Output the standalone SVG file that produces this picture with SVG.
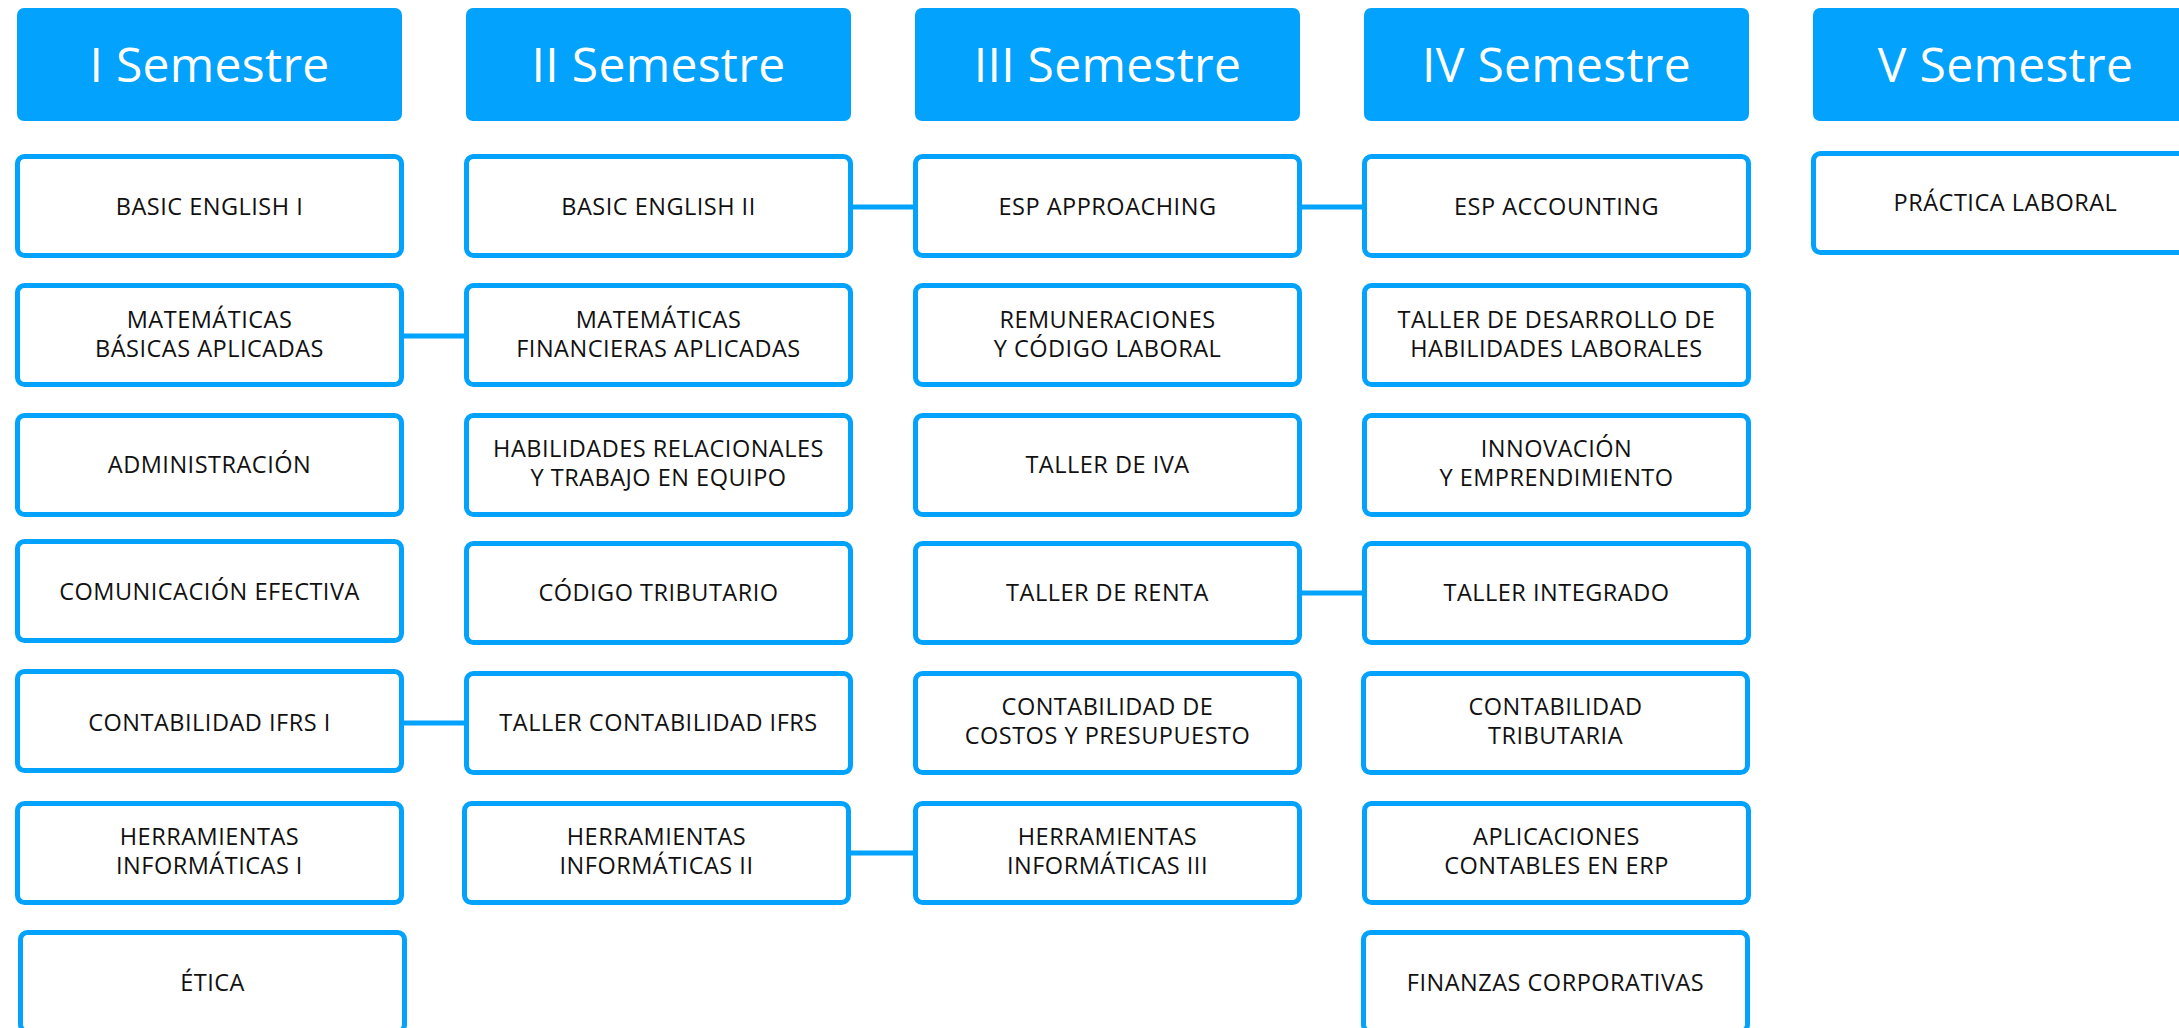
<svg xmlns="http://www.w3.org/2000/svg" width="2179" height="1028" viewBox="0 0 2179 1028">
<style>
.hd{fill:#03A2FD}
.ht{fill:#fff;font-family:"Open Sans","Liberation Sans",sans-serif;font-size:48px;letter-spacing:0.3px;text-anchor:middle}
.bx{fill:#fff;stroke:#03A2FD;stroke-width:5}
.t{fill:#111;font-family:"Open Sans","Liberation Sans",sans-serif;font-size:23.5px;font-weight:500;letter-spacing:0.5px;text-anchor:middle}
.cn{stroke:#03A2FD;stroke-width:5;fill:none}
</style>
<rect width="2179" height="1028" fill="#fff"/>
<g id="connectors">
<line class="cn" x1="404" y1="336" x2="464" y2="336"/>
<line class="cn" x1="404" y1="723" x2="464" y2="723"/>
<line class="cn" x1="853" y1="207" x2="913" y2="207"/>
<line class="cn" x1="851" y1="853" x2="913" y2="853"/>
<line class="cn" x1="1302" y1="207" x2="1362" y2="207"/>
<line class="cn" x1="1302" y1="593" x2="1362" y2="593"/>
</g>
<g id="h1"><rect class="hd" x="17" y="8" width="385" height="113" rx="7"/><text class="ht" x="209.5" y="82">I Semestre</text></g>
<g id="h2"><rect class="hd" x="466" y="8" width="385" height="113" rx="7"/><text class="ht" x="658.5" y="82">II Semestre</text></g>
<g id="h3"><rect class="hd" x="915" y="8" width="385" height="113" rx="7"/><text class="ht" x="1107.5" y="82">III Semestre</text></g>
<g id="h4"><rect class="hd" x="1364" y="8" width="385" height="113" rx="7"/><text class="ht" x="1556.5" y="82">IV Semestre</text></g>
<g id="h5"><rect class="hd" x="1813" y="8" width="385" height="113" rx="7"/><text class="ht" x="2005.5" y="82">V Semestre</text></g>

<g id="c1r1"><rect class="bx" x="17.5" y="156.5" width="384" height="99" rx="7"/><text class="t" x="209.5" y="215">BASIC ENGLISH I</text></g>
<g id="c1r2"><rect class="bx" x="17.5" y="285.5" width="384" height="99" rx="7"/><text class="t" x="209.5" y="328">MATEMÁTICAS</text><text class="t" x="209.5" y="357">BÁSICAS APLICADAS</text></g>
<g id="c1r3"><rect class="bx" x="17.5" y="415.5" width="384" height="99" rx="7"/><text class="t" x="209.5" y="473">ADMINISTRACIÓN</text></g>
<g id="c1r4"><rect class="bx" x="17.5" y="541.5" width="384" height="99" rx="7"/><text class="t" x="209.5" y="600">COMUNICACIÓN EFECTIVA</text></g>
<g id="c1r5"><rect class="bx" x="17.5" y="671.5" width="384" height="99" rx="7"/><text class="t" x="209.5" y="731">CONTABILIDAD IFRS I</text></g>
<g id="c1r6"><rect class="bx" x="17.5" y="803.5" width="384" height="99" rx="7"/><text class="t" x="209.5" y="845">HERRAMIENTAS</text><text class="t" x="209.5" y="874">INFORMÁTICAS I</text></g>
<g id="c1r7"><rect class="bx" x="20.5" y="932.5" width="384" height="99" rx="7"/><text class="t" x="212.5" y="991">ÉTICA</text></g>

<g id="c2r1"><rect class="bx" x="466.5" y="156.5" width="384" height="99" rx="7"/><text class="t" x="658.5" y="215">BASIC ENGLISH II</text></g>
<g id="c2r2"><rect class="bx" x="466.5" y="285.5" width="384" height="99" rx="7"/><text class="t" x="658.5" y="328">MATEMÁTICAS</text><text class="t" x="658.5" y="357">FINANCIERAS APLICADAS</text></g>
<g id="c2r3"><rect class="bx" x="466.5" y="415.5" width="384" height="99" rx="7"/><text class="t" x="658.5" y="457">HABILIDADES RELACIONALES</text><text class="t" x="658.5" y="486">Y TRABAJO EN EQUIPO</text></g>
<g id="c2r4"><rect class="bx" x="466.5" y="543.5" width="384" height="99" rx="7"/><text class="t" x="658.5" y="601">CÓDIGO TRIBUTARIO</text></g>
<g id="c2r5"><rect class="bx" x="466.5" y="673.5" width="384" height="99" rx="7"/><text class="t" x="658.5" y="731">TALLER CONTABILIDAD IFRS</text></g>
<g id="c2r6"><rect class="bx" x="464.5" y="803.5" width="384" height="99" rx="7"/><text class="t" x="656.5" y="845">HERRAMIENTAS</text><text class="t" x="656.5" y="874">INFORMÁTICAS II</text></g>

<g id="c3r1"><rect class="bx" x="915.5" y="156.5" width="384" height="99" rx="7"/><text class="t" x="1107.5" y="215">ESP APPROACHING</text></g>
<g id="c3r2"><rect class="bx" x="915.5" y="285.5" width="384" height="99" rx="7"/><text class="t" x="1107.5" y="328">REMUNERACIONES</text><text class="t" x="1107.5" y="357">Y CÓDIGO LABORAL</text></g>
<g id="c3r3"><rect class="bx" x="915.5" y="415.5" width="384" height="99" rx="7"/><text class="t" x="1107.5" y="473">TALLER DE IVA</text></g>
<g id="c3r4"><rect class="bx" x="915.5" y="543.5" width="384" height="99" rx="7"/><text class="t" x="1107.5" y="601">TALLER DE RENTA</text></g>
<g id="c3r5"><rect class="bx" x="915.5" y="673.5" width="384" height="99" rx="7"/><text class="t" x="1107.5" y="715">CONTABILIDAD DE</text><text class="t" x="1107.5" y="744">COSTOS Y PRESUPUESTO</text></g>
<g id="c3r6"><rect class="bx" x="915.5" y="803.5" width="384" height="99" rx="7"/><text class="t" x="1107.5" y="845">HERRAMIENTAS</text><text class="t" x="1107.5" y="874">INFORMÁTICAS III</text></g>

<g id="c4r1"><rect class="bx" x="1364.5" y="156.5" width="384" height="99" rx="7"/><text class="t" x="1556.5" y="215">ESP ACCOUNTING</text></g>
<g id="c4r2"><rect class="bx" x="1364.5" y="285.5" width="384" height="99" rx="7"/><text class="t" x="1556.5" y="328">TALLER DE DESARROLLO DE</text><text class="t" x="1556.5" y="357">HABILIDADES LABORALES</text></g>
<g id="c4r3"><rect class="bx" x="1364.5" y="415.5" width="384" height="99" rx="7"/><text class="t" x="1556.5" y="457">INNOVACIÓN</text><text class="t" x="1556.5" y="486">Y EMPRENDIMIENTO</text></g>
<g id="c4r4"><rect class="bx" x="1364.5" y="543.5" width="384" height="99" rx="7"/><text class="t" x="1556.5" y="601">TALLER INTEGRADO</text></g>
<g id="c4r5"><rect class="bx" x="1363.5" y="673.5" width="384" height="99" rx="7"/><text class="t" x="1555.5" y="715">CONTABILIDAD</text><text class="t" x="1555.5" y="744">TRIBUTARIA</text></g>
<g id="c4r6"><rect class="bx" x="1364.5" y="803.5" width="384" height="99" rx="7"/><text class="t" x="1556.5" y="845">APLICACIONES</text><text class="t" x="1556.5" y="874">CONTABLES EN ERP</text></g>
<g id="c4r7"><rect class="bx" x="1363.5" y="932.5" width="384" height="99" rx="7"/><text class="t" x="1555.5" y="991">FINANZAS CORPORATIVAS</text></g>

<g id="c5r1"><rect class="bx" x="1813.5" y="153.5" width="384" height="99" rx="7"/><text class="t" x="2005.5" y="211">PRÁCTICA LABORAL</text></g>
</svg>
